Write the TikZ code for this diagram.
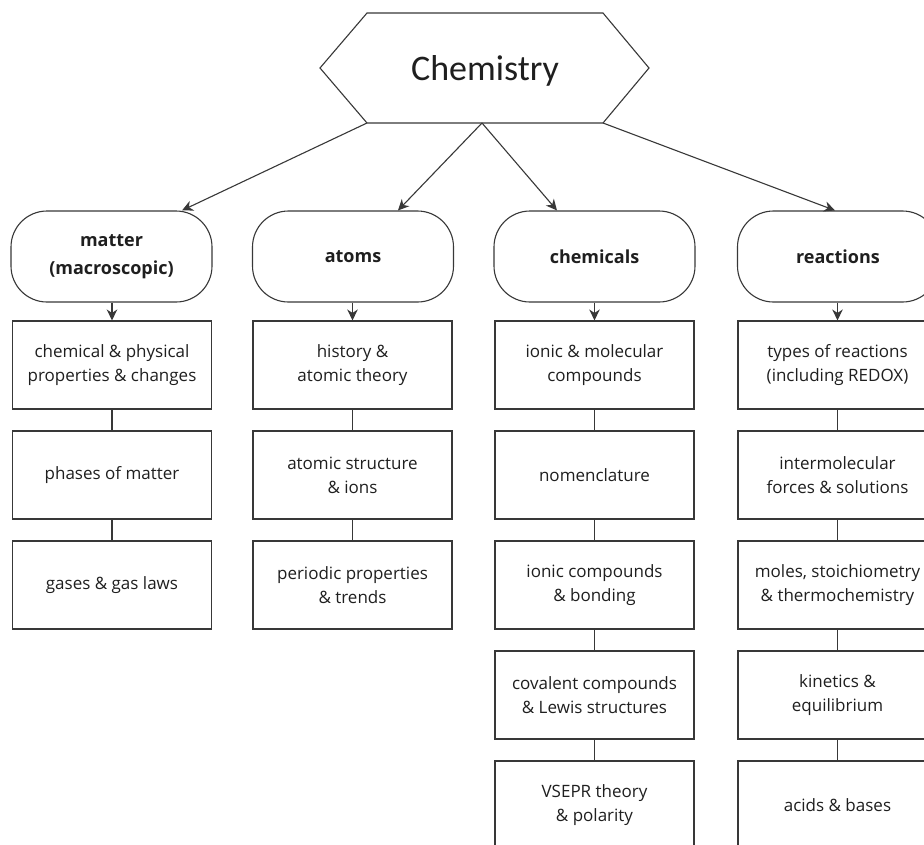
\documentclass[tikz,border=0pt]{standalone}
\usepackage{fontspec}
\setmainfont{Open Sans}
\newfontfamily\titlefont{Carlito}
\usetikzlibrary{arrows.meta}
\begin{document}
\begin{tikzpicture}[x=1pt,y=1pt,
  linesty/.style={draw=black!78, line width=1.1pt},
  arr/.style={linesty, -{Stealth[length=11pt,width=10.5pt,inset=3.5pt]}},
  topic/.style={linesty, rectangle, minimum width=199pt, minimum height=88pt,
    inner sep=0pt, align=center, font=\fontsize{17}{24}\selectfont, text=black!88},
  head/.style={linesty, rectangle, rounded corners=36pt, minimum width=201pt, minimum height=91pt, inner sep=0pt,
    align=center, font=\fontsize{18}{28}\selectfont\bfseries, text=black!88},
]
\path[use as bounding box, clip] (0,0) rectangle (924,-844);
\fill[white] (0,0) rectangle (924,-844);

% hexagon
\coordinate (hl) at (320,-68);
\coordinate (htl) at (367,-13);
\coordinate (htr) at (603,-13);
\coordinate (hr) at (649,-68);
\coordinate (hbr) at (603,-123);
\coordinate (hbl) at (367,-123);
\coordinate (hbm) at (482,-123);
\draw[linesty] (hl) -- (htl) -- (htr) -- (hr) -- (hbr) -- (hbl) -- cycle;
\node[anchor=base, font=\titlefont\fontsize{36}{40}\selectfont, text=black!88] (chem) at (485,-80) {Chemistry};

% heads
\node[head] (matter) at (111.5,-256.5) {matter\\(macroscopic)};
\node[head] (atoms) at (353,-256.5) {atoms};
\node[head] (chemicals) at (594.5,-256.5) {chemicals};
\node[head] (reactions) at (838,-256.5) {reactions};

\draw[arr] (hbl) -- ([xshift=70.5pt]matter.north);
\draw[arr] (hbm) -- ([xshift=45pt]atoms.north);
\draw[arr] (hbm) -- ([xshift=-37.5pt]chemicals.north);
\draw[arr] (hbr) -- ([xshift=-3pt]reactions.north);

% matter column
\node[topic] (m1) at (112,-365) {chemical \& physical\\properties \& changes};
\node[topic] (m2) at (112,-475) {phases of matter};
\node[topic] (m3) at (112,-585) {gases \& gas laws};
% atoms column
\node[topic] (a1) at (352.5,-365) {history \&\\atomic theory};
\node[topic] (a2) at (352.5,-475) {atomic structure\\\& ions};
\node[topic] (a3) at (352.5,-585) {periodic properties\\\& trends};
% chemicals column
\node[topic] (c1) at (594.5,-365) {ionic \& molecular\\compounds};
\node[topic] (c2) at (594.5,-475) {nomenclature};
\node[topic] (c3) at (594.5,-585) {ionic compounds\\\& bonding};
\node[topic] (c4) at (594.5,-695) {covalent compounds\\\& Lewis structures};
\node[topic] (c5) at (594.5,-805) {VSEPR theory\\\& polarity};
% reactions column
\node[topic] (r1) at (837.5,-365) {types of reactions\\(including REDOX)};
\node[topic] (r2) at (837.5,-475) {intermolecular\\forces \& solutions};
\node[topic] (r3) at (837.5,-585) {moles, stoichiometry\\\& thermochemistry};
\node[topic] (r4) at (837.5,-695) {kinetics \&\\equilibrium};
\node[topic] (r5) at (837.5,-805) {acids \& bases};

\draw[arr] (matter.south -| m1) -- (m1.north);
\draw[arr] (atoms.south -| a1) -- (a1.north);
\draw[arr] (chemicals.south -| c1) -- (c1.north);
\draw[arr] (reactions.south -| r1) -- (r1.north);

\draw[linesty] (m1) -- (m2) (m2) -- (m3);
\draw[linesty] (a1) -- (a2) (a2) -- (a3);
\draw[linesty] (c1) -- (c2) (c2) -- (c3) (c3) -- (c4) (c4) -- (c5);
\draw[linesty] (r1) -- (r2) (r2) -- (r3) (r3) -- (r4) (r4) -- (r5);
\end{tikzpicture}
\end{document}
